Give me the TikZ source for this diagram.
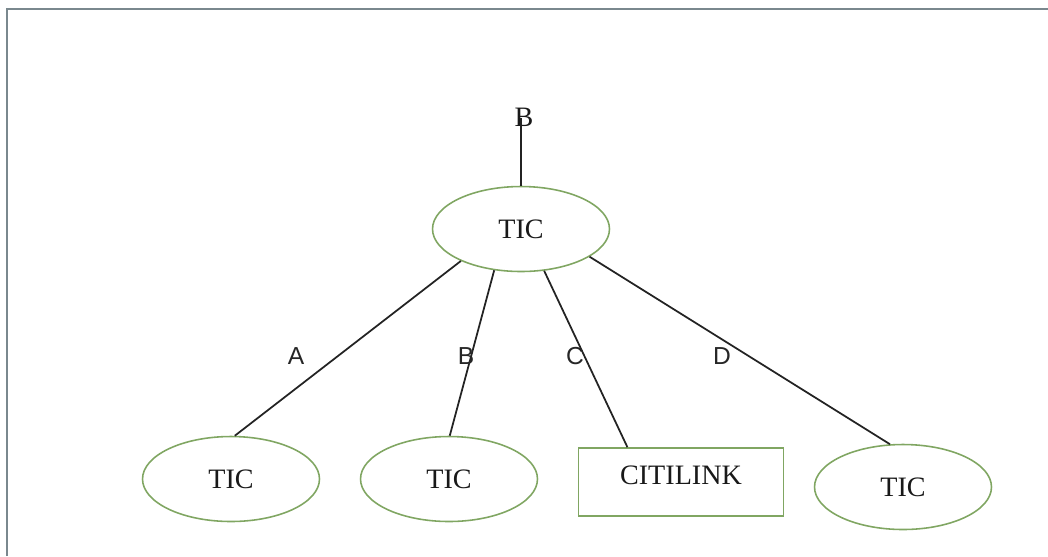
\documentclass[tikz,border=0pt]{standalone}
\usepackage{fontspec}
\setmainfont{Liberation Serif}
\newfontfamily\linkfont{Liberation Sans}
\usetikzlibrary{shapes.geometric}

\definecolor{ticgreen}{RGB}{128,166,98}
\definecolor{framegray}{RGB}{122,136,142}
\definecolor{wiregray}{RGB}{35,35,35}

\begin{document}
\begin{tikzpicture}[x=0.02cm, y=-0.02cm,
    tic/.style={ellipse, draw=ticgreen, line width=0.9pt, inner sep=0pt,
      minimum width=3.54cm, minimum height=1.7cm,
      font=\fontsize{16}{18}\selectfont, text=black!90},
    linkbox/.style={rectangle, draw=ticgreen, line width=0.9pt, inner sep=0pt,
      minimum width=4.1cm, minimum height=1.36cm, text depth=0.28cm,
      font=\fontsize{16}{18}\selectfont, text=black!90},
    wire/.style={draw=wiregray, line width=1pt},
    tag/.style={font=\linkfont\fontsize{14}{16}\selectfont, text=black!85, inner sep=0pt}]

  % 枠（上と左のみ）
  \useasboundingbox (0,0) rectangle (1048,556);
  \draw[framegray, line width=1.6pt] (7,556) -- (7,9) -- (1048,9);

  % ノード
  \node[tic] (top) at (521,229) {TIC};
  \node[tic] (ta) at (231,479) {TIC};
  \node[tic] (tb) at (449,479) {TIC};
  \node[linkbox] (cit) at (681,482) {CITILINK};
  \node[tic] (td) at (903,487) {TIC};

  % 上からの入力
  \coordinate (in) at (521,118);
  \node[font=\fontsize{16}{18}\selectfont, text=black!90, inner sep=0pt] (inB) at (524,117) {B};
  \draw[wire] (in) -- (top.north);

  % 枝
  \draw[wire] (top.208) -- (ta.85);
  \draw[wire] (top.237) -- (tb.89);
  \draw[wire] (top.299) -- (cit.147);
  \draw[wire] (top.338) -- (td.107);

  % 枝のラベル
  \node[tag] (lA) at (296,356) {A};
  \node[tag] (lB) at (466,356) {B};
  \node[tag] (lC) at (575,356) {C};
  \node[tag] (lD) at (722,356) {D};
\end{tikzpicture}
\end{document}
